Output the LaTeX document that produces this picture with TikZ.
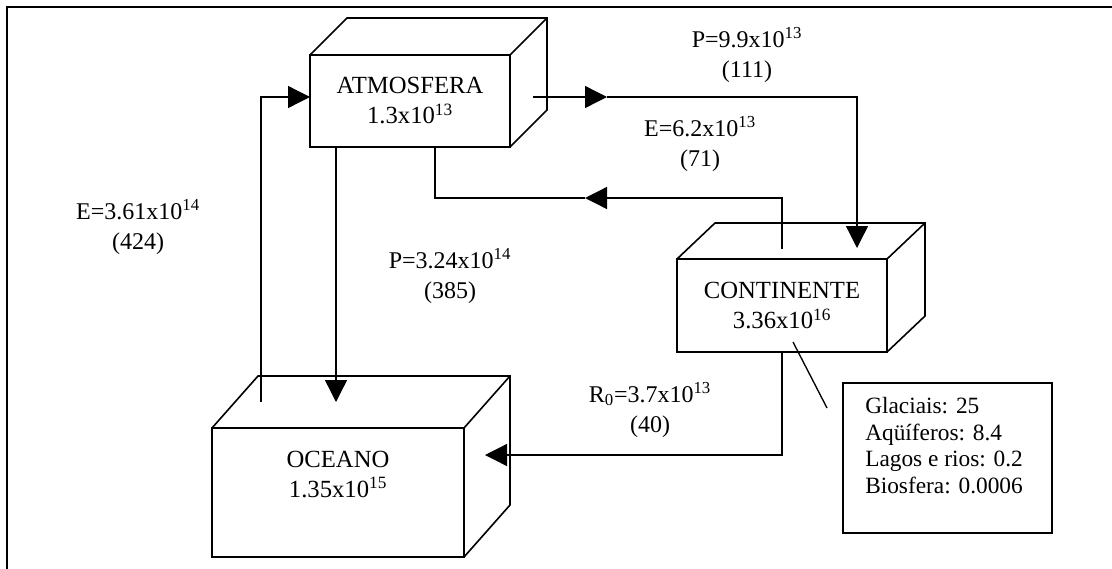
\documentclass[tikz,border=0pt]{standalone}
\usepackage{fontspec}
\setmainfont{Liberation Serif}
\usepackage{tikz}
\usetikzlibrary{arrows.meta}
\usetikzlibrary{positioning}

% faces de cima e da direita de uma caixa
\newcommand{\desenhaCubo}[3]{%
  \draw[borda] (#1.north west) -- ++(#2,#3)
    -- ([shift={(#2,#3)}]#1.north east)
    -- ([shift={(#2,#3)}]#1.south east) -- (#1.south east);
  \draw[borda] (#1.north east) -- ++(#2,#3);
}

\begin{document}
\begin{tikzpicture}[
        x=0.75pt, y=-0.75pt,
        borda/.style={line width=1.2pt},
        caixa/.style={draw, borda, inner sep=0pt, outer sep=0pt, align=center,
          font=\fontsize{18.5}{22.5}\selectfont},
        linha/.style={line width=1pt},
        fluxo/.style={linha, -{Triangle[length=16.5pt, width=16.5pt]}},
        rotulo/.style={align=center, font=\fontsize{18}{22.5}\selectfont},
        every node/.style={color=black}
        ]
        \useasboundingbox (0,0) rectangle (1112,568);
        % moldura
        \draw[line width=1.5pt] (7,580) -- (7,7) -- (1120,7);

        % caixas
        \node[caixa, minimum width=150pt, minimum height=69pt] (atmosfera)
            at (410,101) {ATMOSFERA\\1.3x10\textsuperscript{13}};
        \desenhaCubo{atmosfera}{37}{-37}
        \node[caixa, minimum width=157.5pt, minimum height=69.75pt] (continente)
            at (782,305.5) {CONTINENTE\\3.36x10\textsuperscript{16}};
        \desenhaCubo{continente}{38}{-36}
        \node[caixa, minimum width=189pt, minimum height=96.75pt] (oceano)
            at (338,492.5) {};
        \desenhaCubo{oceano}{46}{-52}
        \node[rotulo, font=\fontsize{18.5}{22.5}\selectfont, inner sep=0pt,
            below=17pt of oceano.north] (oceanotxt) {OCEANO\\1.35x10\textsuperscript{15}};

        % reservatorios do continente
        \node[draw, borda, minimum width=156.75pt, minimum height=112.5pt]
            (reservas) at (947.5,458) {};
        \node[align=left, anchor=north west, inner sep=0pt,
            font=\fontsize{17.5}{20}\selectfont] (notas) at (865,397)
            {Glaciais: 25\\Aqüíferos: 8.4\\Lagos e rios: 0.2\\Biosfera: 0.0006};

        % pontas
        \coordinate (e1) at (261,402);
        \coordinate (p1) at (533,97);
        \coordinate (p2) at (607,97);
        \coordinate (c1) at (857,248);
        \coordinate (c2) at (782,249);
        \coordinate (r1) at (585,198);
        \coordinate (o1) at (336,402);
        \coordinate (o2) at (485,455);
        \coordinate (n1) at (793,342);
        \coordinate (n2) at (827,408);

        % fluxos
        \draw[fluxo] (e1) |- ([yshift=3pt]atmosfera.west);
        \draw[fluxo] (p1) -- (p2);
        \draw[fluxo] (p2) -| (c1);
        \draw[fluxo] (c2) |- (r1);
        \draw[linha] (r1) -| ([xshift=18.75pt]atmosfera.south);
        \draw[fluxo] ([xshift=-55.5pt]atmosfera.south) -- (o1);
        \draw[fluxo] (continente.south) |- (o2);
        \draw[linha] (n1) -- (n2);

        % rotulos
        \node[rotulo] (eoceano) at (138,227) {E=3.61x10\textsuperscript{14}\\(424)};
        \node[rotulo] (pcont) at (747,55) {P=9.9x10\textsuperscript{13}\\(111)};
        \node[rotulo] (econt) at (700,144) {E=6.2x10\textsuperscript{13}\\(71)};
        \node[rotulo] (poceano) at (450,276) {P=3.24x10\textsuperscript{14}\\(385)};
        \node[rotulo] (runoff) at (650,410) {R\textsubscript{0}=3.7x10\textsuperscript{13}\\(40)};
\end{tikzpicture}
\end{document}
